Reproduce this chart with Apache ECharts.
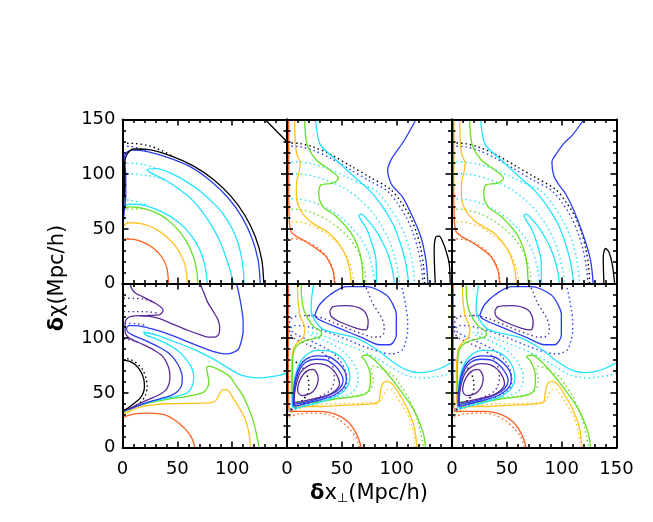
<!DOCTYPE html>
<html lang="en">
<head>
<meta charset="UTF-8">
<title>contours</title>
<script src="https://cdn.jsdelivr.net/npm/echarts@6/dist/echarts.min.js"></script>
<style>
  html, body { margin: 0; padding: 0; background: #fff; }
  #main { width: 653px; height: 522px; }
</style>
</head>
<body>
<div id="main"></div>
<script>
// axis ticks (same on every panel)
var ticks = [0, 50, 100, 150];

// ---- top row, left panel: solid contours ----
var tlOrange = [[0.5,27],[0.5,37],[2,40.5],[8,40.5],[18,38],[28,32.5],[36,24],[40.5,14],[42,0]];
var tlYellow = [[0,50],[2,54],[7,55.5],[18,54.5],[30,50],[41,42],[50,32],[56,20],[58.5,9],[59,0]];
var tlGreen = [[0,63],[2,68],[7,70],[20,68.5],[35,62.5],[48,52],[58,39],[64.5,25],[67.8,11],[68.6,0]];
var tlCyanIn = [[0,67],[2,71],[7,72.5],[20,71.5],[35,66],[50,57],[62,45],[70,32],[75,17],[77.4,0]];
var tlCyanTongue = [[111,0],[109.5,18],[106,35],[100,50],[91.5,64],[83,73.5],[72,83.5],[60,92],[46,100],[31,105],[22,104],
  [28,100],[40,94],[52,86],[64,76],[74,64],[83,50],[90,36],[95,22],[99,9],[101,0]];
var tlBlue = [[0.5,52],[1.5,65],[3,80],[3,100],[1.5,113],[3,119],[9,122],[21.8,120.8],[43,114.6],[62.8,106.2],[80.7,93.5],
  [96.2,78.4],[108.8,61],[118,41.7],[123.7,21.2],[125.6,0]];
var tlBlack = [[0.3,50],[1,70],[2,90],[2,108],[4,118],[10,123],[22.4,122.6],[44.1,116.8],[64.5,107.6],[82.9,95.2],
  [98.8,79.9],[111.7,62.2],[121.2,42.5],[127,21.6],[128.8,0]];
var tlDiag = [[130,150],[150,129.6]];
// top left dotted (only visible near the left edge)
var tlDotBlack = [[0,128.3],[12,128],[24,126],[36,121.5],[46,116.2]];
var tlDotBlue = [[0,125.6],[8,125.3],[16,123.5],[24,120.3]];
var tlDotCyanA = [[0,110],[10,110],[20,108.5],[31,105.5]];
var tlDotCyanB = [[0,100.6],[10,100.4],[20,99],[30,97.5],[40,94]];
var tlDotCyanC = [[0,76.8],[8,76],[16,74],[24,71.2]];
var tlDotGreen = [[0,67.7],[10,68],[20,68.5]];
var tlDotYellow = [[0,56.4],[8,56],[16,55]];
var tlDotOrange = [[0,41],[6,40.7]];

// ---- top row, middle and right panels: solid contours ----
var tmOrange = [[1.5,150],[1.5,100],[2,60],[3.5,48],[8,43.5],[15,39.5],[26.7,32],[35.8,24.4],[41.8,12.2],[43.3,0]];
var tmYellow = [[7,150],[7.5,130],[9,118],[12,110],[11,102],[9,94],[8.5,82],[10,72],[15,63],[23.6,55],[38.8,45.7],
  [51,30.5],[56.5,16],[58.8,0]];
var tmGreen = [[16,150],[17,135],[19,125],[26.7,113],[38.8,104],[47,96.3],[41.8,91.8],[31,90.2],[29,82.6],[32.7,70.4],
  [45,61.3],[58.5,46],[65.5,31],[68.5,16],[69.4,0]];
var tmCyanOut = [[26,150],[28,135],[31,126],[48,110],[62,97],[75,85.4],[86,72],[96.4,54.9],[103,38],[108,20],[111,0]];
var tmCyanTongue = [[81.5,0],[81.2,21],[78,35],[73,49],[67.6,58],[65.5,62],[67.6,63.4],[73.6,58],[80,50],[86,40],
  [92,27],[96,13],[98,0]];
var tmBlue = [[117.6,150],[107,131],[98,118],[94.8,113],[91.8,104],[94.8,91.5],[99.7,85.4],[105.5,79],[114.5,61],
  [122,42.7],[126.7,21],[128.5,0]];
var trBlue = [[120.2,150],[110,136],[101.8,128],[94,117],[91.1,111.3],[92.7,99],[97,91],[103.4,82.3],[111,67],
  [120.2,42.7],[126.3,21.3],[128.7,0]];
var tmArch = [[135.2,0],[134.2,30.5],[135.8,42.7],[138.8,43.3],[142,38],[144.8,30.5],[147.9,18.3],[148.8,0]];
var trArch = [[138.5,0],[137.9,24.4],[140,32],[143,29],[146,18.3],[148.3,0]];
// top middle/right dotted
var tmDotBlack = [[0,128.6],[12,128],[23.6,125],[40,118],[58,107.5],[76,97],[94,86.5],[104,74.5],[112,61.5],[118,47],
  [122,32],[124.5,16],[125.5,0]];
var tmDotBlue = [[0,125.6],[12,125],[23.6,122],[40,114.5],[58,104],[75,94],[91,85],[101,73],[109,60],[115,46],
  [119.5,31],[122.5,15],[124,0]];
var tmDotCyanA = [[0,111.3],[12,111],[25,109],[40,104],[55,97],[68,91],[81.5,84.5],[92,72],[101,58],[108,43],
  [113,26],[115.5,10],[116,0]];
var tmDotCyanB = [[0,100.6],[12,100.2],[25,98],[40,93],[55,85.5],[66,77],[77,66],[86,53],[93,40],[98,25],[101.5,10],[102.7,0]];
var tmDotCyanC = [[0,77.7],[12,77],[25,74],[38,68],[50,60],[60,50],[68,40],[74,28],[78,14],[80,0]];
var tmDotGreen = [[0,68],[12,67.5],[25,64],[37,58],[48,50],[57,41],[64,31],[69,19],[71.5,8],[72.4,0]];
var tmDotYellow = [[0,56.4],[12,56],[24,52.5],[35,46],[45,38],[52,29],[57,19],[60,9],[61,0]];
var tmDotOrange = [[0,41],[10,40.5],[20,37.5],[30,31],[37,23],[42,13],[44,0]];

// ---- bottom row, left panel: solid contours ----
var blOrange = [[0,20],[0.5,26.5],[10,30.5],[25,31.5],[38,30],[48,25],[57,17],[63,9],[66,0]];
var blYellow = [[0,30],[8,34],[15.8,37],[28,39],[40,40],[55,40.2],[70.5,40.5],[82,41.2],[86,44],[88.5,49],[91,52.8],
  [95,53],[98,50],[101,45],[106,37],[110,30],[113.5,21],[115.5,12],[116.7,0]];
var blGreen = [[0,31.5],[6,34.5],[13,37.5],[25,41],[43,44.5],[58,46.5],[68,48.5],[75,51.5],[78.7,60],[77.5,68],[76.5,73],
  [79,74.5],[86,72],[97.7,65],[104,56],[110,47],[115,36],[119,25],[122,13],[124.6,0]];
var blCyan = [[150,68],[143,66],[137,65],[125,63.6],[115,64.5],[107,66.7],[95,73.5],[82.7,81],[70,87.5],[58.4,92.5],
  [48,96.5],[40,99.5],[32,102.5],[25,104.5],[19,105.4],[22,102.5],[30,99.5],[40,95],[50,89],[57,82],[62.5,74],
  [65,65],[63.5,56],[59,50],[50,47],[40,45],[28,42.5],[15,38.5],[6,35],[0,32.5]];
var blBlue = [[104,150],[106.5,139],[108.5,127.8],[110,116],[110,106.4],[108,96],[105.5,89.6],[100,86.5],[94.8,85.6],
  [86,87],[76.6,90],[66,94],[55.3,98.5],[45,102.5],[34,106.5],[23,109.5],[12.8,111.5],[6,111.5],[3.6,109],[4.5,106],
  [9,103],[16,100],[25,96],[34,91.5],[42,86.5],[48,80],[52.5,72],[54.5,64],[54,57],[50.5,51.5],[44,47.5],[34,44.5],
  [22,41],[10,36.5],[0,33]];
var blPurple = [[6.8,150],[8.3,145.6],[12,141],[16,139],[24,135],[31,131.3],[36,127.5],[37,125.2],[34.1,121.5],[25,120.8],
  [15.9,120.6],[8,120],[5.3,119],[2.8,116],[2.3,110],[2.5,105],[5,101],[10,98],[18,94.5],[28,89.5],[36,84],[40.5,77],
  [43,69],[43.2,63],[42,57],[39,52],[33,48],[25,44.5],[14,39.5],[5,35],[0,33.5]];
var blPurpleBlob = [[70.5,150],[74,142],[77.6,133],[83,124],[87,117],[88.6,110],[88,104],[84,101],[78,101],[70,103.5],
  [60,107],[52,110.3],[43,114],[34,117.8],[25,120],[16,120.5]];
var blBlack = [[0,80],[6,79],[12,75.5],[17,69],[19.5,62],[20,55],[18.5,49],[15,44],[10,40],[4,35.5],[0,33.8]];
// bottom left dotted (visible near the left edge)
var blDotPurpleA = [[1,136.5],[10,136.5],[20,135.5],[27,133.5]];
var blDotPurpleB = [[1,124.3],[12,124.3],[24,124],[31,123]];
var blDotPurpleC = [[1,99],[8,98.3],[14,96.5]];
var blDotBlue = [[2,113.5],[12,113.3],[20,112]];
var blDotBlack = [[0,82],[7,80.5],[13,77],[18.5,71],[21.5,63],[22.5,56],[21,48],[17,42],[10,37],[0,32.5]];

// ---- bottom row, middle and right panels: solid contours ----
var bmOrange = [[1.2,150],[1.2,80],[1.5,40],[3,33],[15,33],[30,33],[45,30],[55,24],[62,15],[66,6],[67.5,0]];
var bmYellow = [[9.5,150],[10,135],[11.8,121],[16.4,108.7],[14.9,101],[8.8,95],[5.8,90.4],[4.2,75],[4,55],[4.5,40],
  [10,37.5],[30,37.5],[50,38.5],[70,39.5],[83,41],[85,50],[87,58],[91,60.5],[97,57],[104,46],[110,35],[116,19],[118.5,0]];
var bmGreen = [[13,150],[13.5,136],[16,124],[23.9,111],[31.5,105],[30,101.4],[22,99],[15,97],[10,94],[7,90],[5.5,84],
  [5,70],[4.8,55],[5.8,42],[24,41.5],[45,44.5],[69.4,48.1],[75,53],[76,62],[75.5,69.4],[70.9,80],[67.9,83.1],
  [72.4,84.6],[84.5,75.5],[99.7,57.2],[114.8,35.8],[123.9,14.5],[126.4,0]];
var bmCyan = [[24.5,150],[22.5,137],[22,126],[25,117],[33,108],[50,103.5],[63.3,100],[75,94],[84.5,87.8],[97,78],
  [108.8,71],[120,68.5],[130,69.4],[140,72.5],[150,77.5]];
var bmCyanLoop = [[5,37],[5.5,50],[7,63],[11,76],[18,85],[28,88.9],[40,88],[50,82],[56,72],[57.3,63],[54,54],[45,47],
  [32,42],[18,38.5],[8,36],[5,37]];
var bmBlueLoopA = [[5.5,38],[6,50],[7.5,62],[11,73],[17,80.5],[27,83.8],[38,83],[47,77],[53,69],[54.2,62],[51,54],
  [43,48],[30,43.5],[16,40],[8,38],[5.5,38]];
var bmBlueLoopB = [[6,39],[6.5,50],[8,61],[11.5,71],[17,78],[26,80.7],[36,80],[44,74.5],[49.5,67],[51.2,61],[48,54],
  [40,48.5],[28,44.5],[15,41],[8,39.5],[6,39]];
var bmPurpleLoop = [[6.5,40],[7,50],[9,60],[12,68],[18,74],[26,76.7],[35,75.5],[42,71],[46.5,64],[47.9,58],[44,52],
  [36,47.5],[24,44.5],[13,42],[8,41],[6.5,40]];
var bmPurpleCore = [[9.6,53],[11,60],[15,67],[20,71],[23.6,71.4],[27,68.5],[28.5,63],[27,56],[23.5,51],[19.4,48.6],
  [14,47.5],[10.5,49.5],[9.6,53]];
var bmBlueBlob = [[26.6,124.3],[30,131],[39,139.5],[54,147.2],[72.4,147.2],[90.6,139.5],[97,130],[99.7,121.2],[99.7,103],
  [93.6,94],[84.5,94],[69.4,100],[48,109],[30,116.6],[25.6,121],[26.6,124.3]];
var bmPurpleBlob = [[39,124.3],[42,128.8],[54,129.8],[69.4,125.8],[74,115],[72,107.5],[63.6,109],[48,115],[40.6,119.6],
  [39,124.3]];

var COL = {
  black: '#000000', purple: '#5b2a98', blue: '#2b3cf2', cyan: '#22e3ff',
  green: '#66e022', yellow: '#ffc21e', orange: '#ff5f1f'
};

var chart = echarts.init(document.getElementById('main'));

var boxes = [[122.5, 119.5], [287, 119.5], [452, 119.5], [122.5, 283.5], [287, 283.5], [452, 283.5]];
var grids = boxes.map(function (b) {
  return { left: b[0], top: b[1], width: 164.5, height: 164 };
});

function hide150(v) { return v === 150 ? '' : v; }
function showAll(v) { return v; }

function mkAxis(gi, position, fmt) {
  return {
    type: 'value', gridIndex: gi, position: position,
    min: ticks[0], max: ticks[ticks.length - 1], interval: ticks[1] - ticks[0],
    z: 10,
    axisLine: { show: true, onZero: false, lineStyle: { color: '#000', width: 2 } },
    axisTick: { show: true, inside: true, length: 6, lineStyle: { color: '#000', width: 1.6 } },
    minorTick: { show: true, splitNumber: 5, length: 3.5, lineStyle: { color: '#000', width: 1.6 } },
    splitLine: { show: false },
    axisLabel: fmt ? {
      show: true, formatter: fmt, color: '#000', fontSize: 18, fontFamily: 'DejaVu Sans',
      margin: position === 'bottom' ? 13 : 7
    } : { show: false }
  };
}

var xAxes = [], yAxes = [];
for (var g = 0; g < 6; g++) {
  var xf = null, yf = null;
  if (g === 3 || g === 4) xf = hide150;
  if (g === 5) xf = showAll;
  if (g === 0) yf = showAll;
  if (g === 3) yf = hide150;
  xAxes.push(mkAxis(g, 'bottom', xf));
  xAxes.push(mkAxis(g, 'top', null));
  yAxes.push(mkAxis(g, 'left', yf));
  yAxes.push(mkAxis(g, 'right', null));
}

var series = [];
function ln(g, data, color, dotted) {
  series.push({
    type: 'line', xAxisIndex: 2 * g, yAxisIndex: 2 * g, data: data,
    symbol: 'none', smooth: 0.3, clip: true, silent: true,
    lineStyle: { color: color, width: dotted ? 1.4 : 1.3, type: dotted ? [1.5, 3] : 'solid' },
    z: dotted ? 2 : 3
  });
}

// top left
ln(0, tlDotBlack, COL.black, true); ln(0, tlDotBlue, COL.blue, true);
ln(0, tlDotCyanA, COL.cyan, true); ln(0, tlDotCyanB, COL.cyan, true); ln(0, tlDotCyanC, COL.cyan, true);
ln(0, tlDotGreen, COL.green, true); ln(0, tlDotYellow, COL.yellow, true); ln(0, tlDotOrange, COL.orange, true);
ln(0, tlOrange, COL.orange); ln(0, tlYellow, COL.yellow); ln(0, tlGreen, COL.green);
ln(0, tlCyanIn, COL.cyan); ln(0, tlCyanTongue, COL.cyan); ln(0, tlBlue, COL.blue);
ln(0, tlBlack, COL.black); ln(0, tlDiag, COL.black);

// top middle and right
[1, 2].forEach(function (g) {
  ln(g, tmDotBlack, COL.black, true); ln(g, tmDotBlue, COL.blue, true);
  ln(g, tmDotCyanA, COL.cyan, true); ln(g, tmDotCyanB, COL.cyan, true); ln(g, tmDotCyanC, COL.cyan, true);
  ln(g, tmDotGreen, COL.green, true); ln(g, tmDotYellow, COL.yellow, true); ln(g, tmDotOrange, COL.orange, true);
  ln(g, tmOrange, COL.orange); ln(g, tmYellow, COL.yellow); ln(g, tmGreen, COL.green);
  ln(g, tmCyanOut, COL.cyan); ln(g, tmCyanTongue, COL.cyan);
  ln(g, g === 1 ? tmBlue : trBlue, COL.blue);
  ln(g, g === 1 ? tmArch : trArch, COL.black);
});

// bottom left
ln(3, blDotPurpleA, COL.purple, true); ln(3, blDotPurpleB, COL.purple, true); ln(3, blDotPurpleC, COL.purple, true);
ln(3, blDotBlue, COL.blue, true); ln(3, blDotBlack, COL.black, true);
ln(3, blOrange, COL.orange); ln(3, blYellow, COL.yellow); ln(3, blGreen, COL.green);
ln(3, blCyan, COL.cyan); ln(3, blBlue, COL.blue); ln(3, blPurpleBlob, COL.purple);
ln(3, blPurple, COL.purple); ln(3, blBlack, COL.black);

// bottom middle and right (dotted = left panel contours)
[4, 5].forEach(function (g) {
  ln(g, blOrange, COL.orange, true); ln(g, blYellow, COL.yellow, true); ln(g, blGreen, COL.green, true);
  ln(g, blCyan, COL.cyan, true); ln(g, blBlue, COL.blue, true); ln(g, blPurpleBlob, COL.purple, true);
  ln(g, blPurple.slice(9), COL.purple, true); ln(g, blBlack, COL.black, true);
  ln(g, bmOrange, COL.orange); ln(g, bmYellow, COL.yellow); ln(g, bmGreen, COL.green);
  ln(g, bmCyan, COL.cyan); ln(g, bmCyanLoop, COL.cyan);
  ln(g, bmBlueLoopA, COL.blue); ln(g, bmBlueLoopB, COL.blue);
  ln(g, bmPurpleLoop, COL.purple); ln(g, bmPurpleCore, COL.purple);
  ln(g, bmBlueBlob, COL.blue); ln(g, bmPurpleBlob, COL.purple);
});

var option = {
  backgroundColor: '#fff',
  animation: false,
  grid: grids,
  xAxis: xAxes,
  yAxis: yAxes,
  series: series,
  graphic: [
    {
      type: 'text', x: 58, y: 278, rotation: Math.PI / 2,
      style: {
        text: '{d|δ}χ(Mpc/h)', fill: '#000', fontSize: 21, fontFamily: 'DejaVu Sans',
        align: 'center', verticalAlign: 'middle',
        rich: { d: { fontWeight: 'bold', fontSize: 21, fontFamily: 'DejaVu Sans' } }
      }
    },
    {
      type: 'text', x: 369, y: 494,
      style: {
        text: '{d|δ}x{s|⊥}(Mpc/h)', fill: '#000', fontSize: 21, fontFamily: 'DejaVu Sans',
        align: 'center', verticalAlign: 'middle',
        rich: {
          d: { fontWeight: 'bold', fontSize: 21, fontFamily: 'DejaVu Sans' },
          s: { fontSize: 13, fontFamily: 'DejaVu Sans', verticalAlign: 'bottom', padding: [10, 0, 0, 0] }
        }
      }
    }
  ]
};
chart.setOption(option);
</script>
</body>
</html>
